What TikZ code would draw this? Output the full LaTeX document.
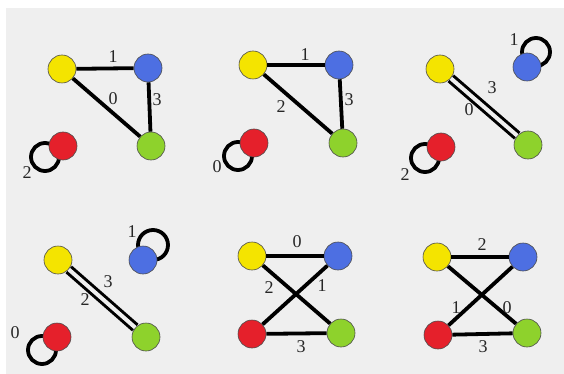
\documentclass[tikz,border=0pt]{standalone}
\usepackage{fontspec}
\setmainfont{Liberation Serif}
\usetikzlibrary{calc,backgrounds}
\definecolor{bggray}{HTML}{EFEFEF}
\definecolor{vyellow}{HTML}{F4E400}
\definecolor{vblue}{HTML}{4D6FE2}
\definecolor{vgreen}{HTML}{8ED22C}
\definecolor{vred}{HTML}{E5202B}
\begin{document}
\begin{tikzpicture}[x=1pt,y=-1pt,
  vtx/.style={circle,draw=black!70,line width=0.6pt,minimum size=28pt,inner sep=0pt},
  yel/.style={vtx,fill=vyellow},
  blu/.style={vtx,fill=vblue},
  grn/.style={vtx,fill=vgreen},
  rd/.style={vtx,fill=vred},
  edg/.style={line width=3.8pt,black},
  dbl/.style={line width=3pt,black,double=bggray,double distance=4pt},
  ring/.style={line width=3.8pt,black},
  lbl/.style={font=\fontsize{18}{18}\selectfont,inner sep=0pt,text=black!85}]
\useasboundingbox (0,0) rectangle (564,374);
\begin{pgfonlayer}{background}
\fill[white] (0,0) rectangle (564,374);
\fill[bggray] (6,8) rectangle (564,374);
\end{pgfonlayer}
% nodes
\node[yel] (y1) at (62,69) {};  \node[blu] (b1) at (148,68) {};
\node[grn] (g1) at (151,146) {}; \node[rd] (r1) at (63,146) {};
\node[yel] (y2) at (253,65) {};  \node[blu] (b2) at (339,65) {};
\node[grn] (g2) at (343,143) {}; \node[rd] (r2) at (254,143) {};
\node[yel] (y3) at (440,69) {};  \node[blu] (b3) at (527,67) {};
\node[grn] (g3) at (528,145) {}; \node[rd] (r3) at (441,147) {};
\node[yel] (y4) at (58,260) {};  \node[blu] (b4) at (143,260) {};
\node[grn] (g4) at (146,337) {}; \node[rd] (r4) at (57,337) {};
\node[yel] (y5) at (252,256) {}; \node[blu] (b5) at (338,256) {};
\node[grn] (g5) at (341,333) {}; \node[rd] (r5) at (252,334) {};
\node[yel] (y6) at (437,257) {}; \node[blu] (b6) at (523,257) {};
\node[grn] (g6) at (527,333) {}; \node[rd] (r6) at (438,335) {};
% panel 1
\draw[edg] (y1) -- (b1) node[lbl] (l11) at (113,57) {1};
\draw[edg] (y1) -- (g1) node[lbl] (l12) at (113,99) {0};
\draw[edg] (b1) -- (g1) node[lbl] (l13) at (157,100) {3};
% panel 2
\draw[edg] (y2) -- (b2) node[lbl] (l21) at (305,55) {1};
\draw[edg] (y2) -- (g2) node[lbl] (l22) at (281,107) {2};
\draw[edg] (b2) -- (g2) node[lbl] (l23) at (349,100) {3};
% panel 3
\draw[dbl] (y3) -- (g3) node[lbl] (l31) at (492,88) {3} node[lbl] (l32) at (469,110) {0};
% panel 4
\draw[dbl] (y4) -- (g4) node[lbl] (l41) at (108,282) {3} node[lbl] (l42) at (85,300) {2};
% panel 5
\draw[edg] (y5) -- (b5) node[lbl] (l51) at (297,242) {0};
\draw[edg] (y5) -- (g5) node[lbl] (l52) at (269,288) {2};
\draw[edg] (r5) -- (b5) node[lbl] (l53) at (322,286) {1};
\draw[edg] (r5) -- (g5) node[lbl] (l54) at (301,347) {3};
% panel 6
\draw[edg] (y6) -- (b6) node[lbl] (l61) at (482,245) {2};
\draw[edg] (r6) -- (b6) node[lbl] (l62) at (456,308) {1};
\draw[edg] (y6) -- (g6) node[lbl] (l63) at (507,308) {0};
\draw[edg] (r6) -- (g6) node[lbl] (l64) at (483,347) {3};
% loops
\begin{pgfonlayer}{background}
\draw[ring] (r1.center) ++(-18,11) circle[radius=14];
\draw[ring] (r2.center) ++(-16,13) circle[radius=14];
\draw[ring] (r3.center) ++(-16,11) circle[radius=14];
\draw[ring] (b3.center) ++(9,-15) circle[radius=14];
\draw[ring] (b4.center) ++(10,-15) circle[radius=15];
\draw[ring] (r4.center) ++(-15,13) circle[radius=14];
\end{pgfonlayer}
\node[lbl] (l14) at (27,173) {2};
\node[lbl] (l24) at (217,167) {0};
\node[lbl] (l33) at (514,40) {1};
\node[lbl] (l34) at (405,175) {2};
\node[lbl] (l43) at (132,232) {1};
\node[lbl] (l44) at (15,333) {0};
\end{tikzpicture}
\end{document}
